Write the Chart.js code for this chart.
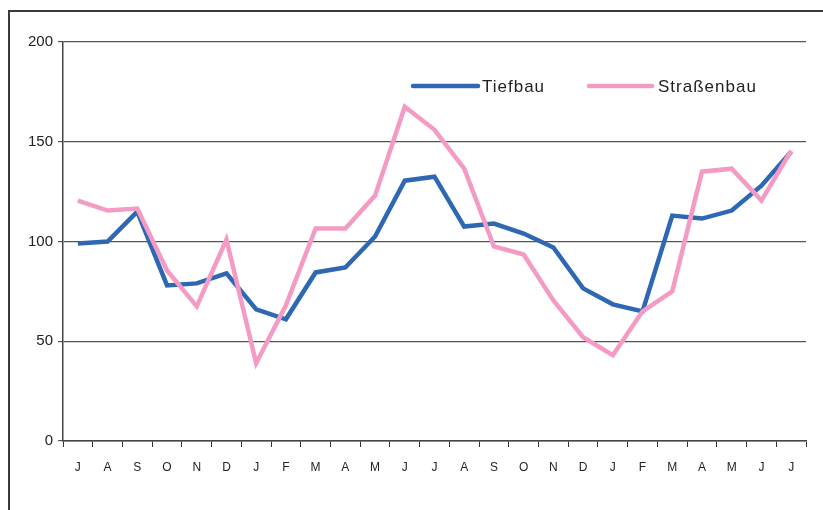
<!DOCTYPE html>
<html lang="de">
<head>
<meta charset="UTF-8">
<title>Tiefbau / Straßenbau</title>
<script src="https://cdn.jsdelivr.net/npm/chart.js"></script>
<style>
    body { margin: 0; background: #fff; font-family: "Liberation Sans", Arial, sans-serif; }
    #wrap { position: relative; width: 823px; height: 510px; overflow: hidden; }
    #frame { position: absolute; left: 8px; top: 10px; width: 900px; height: 600px;
             border-top: 2px solid #3a3a3a; border-left: 2px solid #3a3a3a; }
    canvas { position: absolute; left: 0; top: 0; }
</style>
</head>
<body>
<div id="wrap">
    <div id="frame"></div>
    <canvas id="chart" width="823" height="510"></canvas>
</div>
<script>
const months = ["J","A","S","O","N","D","J","F","M","A","M","J","J","A","S","O","N","D","J","F","M","A","M","J","J"];
const tiefbau = [99, 100, 115, 78, 79, 84, 66, 61, 84.5, 87, 102.5, 130.5, 132.5, 107.5, 109, 104, 97, 76.5, 68.5, 65, 113, 111.5, 115.5, 128, 145];
const strassenbau = [120.5, 115.5, 116.5, 85.5, 67.5, 101, 39, 68, 106.5, 106.5, 123, 167.5, 156, 136.5, 97.5, 93.5, 70.5, 52, 43, 65, 75, 135, 136.5, 120.5, 145.5];
const yTicks = [0, 50, 100, 150, 200];

// Legende innerhalb der Zeichenfläche
const insideLegend = {
    id: 'insideLegend',
    afterDraw(chart) {
        const ctx = chart.ctx;
        const a = chart.chartArea;
        const y = a.top + 44;
        const items = [
            { x1: 413, x2: 478, tx: 482, ds: chart.data.datasets[0] },
            { x1: 589, x2: 652, tx: 658, ds: chart.data.datasets[1] }
        ];
        ctx.save();
        ctx.font = '17px "Liberation Sans", Arial, sans-serif';
        ctx.textBaseline = 'middle';
        if ('letterSpacing' in ctx) ctx.letterSpacing = '1px';
        items.forEach(it => {
            ctx.strokeStyle = it.ds.borderColor;
            ctx.lineWidth = 4.5;
            ctx.lineCap = 'round';
            ctx.beginPath();
            ctx.moveTo(it.x1, y);
            ctx.lineTo(it.x2, y);
            ctx.stroke();
            ctx.fillStyle = '#222';
            ctx.fillText(it.ds.label, it.tx, y + 1);
        });
        ctx.restore();
    }
};

new Chart(document.getElementById('chart'), {
    type: 'line',
    data: {
        labels: months,
        datasets: [{
            label: 'Tiefbau',
            data: tiefbau,
            borderColor: '#2e67b2',
            borderWidth: 4.5,
            pointRadius: 0,
            tension: 0,
            order: 1
        }, {
            label: 'Straßenbau',
            data: strassenbau,
            borderColor: '#f49bc5',
            borderWidth: 4.5,
            pointRadius: 0,
            tension: 0,
            order: 0
        }]
    },
    options: {
        responsive: false,
        animation: false,
        layout: { padding: { top: 42, right: 17, bottom: 0, left: 0 } },
        plugins: {
            legend: { display: false },
            tooltip: { enabled: false }
        },
        scales: {
            x: {
                offset: true,
                afterFit: s => { s.height = 69; },
                grid: { display: true, offset: true, drawOnChartArea: false, drawTicks: true, tickLength: 6, color: '#333', lineWidth: 1 },
                border: { display: true, color: '#444', width: 1.5 },
                ticks: { color: '#222', font: { size: 12, family: '"Liberation Sans", Arial, sans-serif' }, padding: 13, maxRotation: 0, autoSkip: false }
            },
            y: {
                min: 0,
                max: 200,
                afterFit: s => { s.width = 63; },
                afterBuildTicks: s => { s.ticks = yTicks.map(v => ({ value: v })); },
                grid: { color: '#555', lineWidth: 1.2, drawTicks: true, tickLength: 5 },
                border: { display: true, color: '#444', width: 1.5 },
                ticks: { color: '#222', font: { size: 15, family: '"Liberation Sans", Arial, sans-serif' }, padding: 5 }
            }
        }
    },
    plugins: [insideLegend]
});
</script>
</body>
</html>
